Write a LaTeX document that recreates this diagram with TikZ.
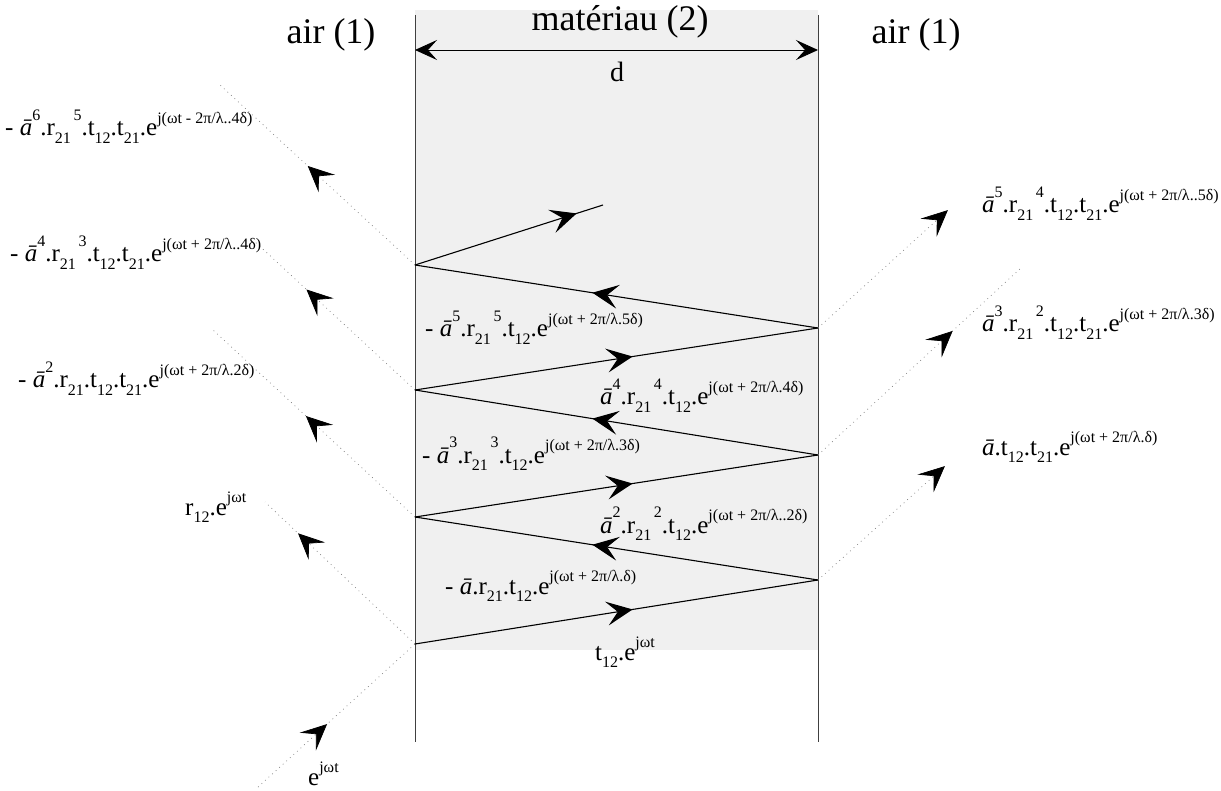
\documentclass[tikz,border=0pt]{standalone}
\usepackage{fontspec}
\setmainfont{Liberation Serif}
\usepackage{tikz}
\usetikzlibrary{arrows.meta,decorations.markings}

\newcommand\scr{\fontsize{16}{16}\selectfont}
\newcommand\ab[1]{\textit{ā}\raisebox{0.62em}{\scr #1}}
\newcommand\lo[1]{\raisebox{-0.3em}{\scr #1}}
\newcommand\hi[1]{\raisebox{0.62em}{\scr\,#1}}
\newcommand\ex[1]{\raisebox{0.5em}{\scr #1}}

\begin{document}
\begin{tikzpicture}[x=1pt,y=-1pt,
  midarrow/.style={postaction={decorate},decoration={markings,
    mark=at position #1 with {\arrow[black,solid]{Stealth[length=26pt,width=24pt,inset=11pt]}}}}]
\tikzstyle{every node}+=[inner sep=0pt]
\tikzstyle{wave}=[black,line width=1.1pt]
\tikzstyle{ray}=[gray,line width=0.7pt,dash pattern=on 0.8pt off 4pt]
\tikzstyle{wall}=[black!75,line width=0.8pt]
\tikzstyle{formula}=[anchor=base west,font=\fontsize{25}{28}\selectfont]
\tikzstyle{title}=[font=\fontsize{36}{40}\selectfont]
\useasboundingbox (0,0) rectangle (1221,791);
% slab
\fill [black!6] (415,10) rectangle (818,650);
\coordinate (wl1) at (415,15);
\coordinate (wl2) at (415,742);
\coordinate (wr1) at (818,15);
\coordinate (wr2) at (818,742);
\draw [wall] (wl1) -- (wl2);
\draw [wall] (wr1) -- (wr2);
\node [title] (air1) at (331,35) {air (1)};
\node [title] (mat) at (620,22) {matériau (2)};
\node [title] (air2) at (916,35) {air (1)};
\coordinate (dl) at (415,50);
\coordinate (dr) at (818,50);
\draw [black,line width=0.9pt,{Stealth[length=22pt,width=20pt,inset=9pt]}-{Stealth[length=22pt,width=20pt,inset=9pt]}] (dl) -- (dr);
\node [font=\fontsize{28}{30}\selectfont] (d) at (617,72) {d};
% reflection points
\coordinate (A0) at (415,644);
\coordinate (B1) at (818,580);
\coordinate (A1) at (415,517);
\coordinate (B2) at (818,455);
\coordinate (A2) at (415,390);
\coordinate (B3) at (818,328);
\coordinate (A3) at (415,265);
\coordinate (E) at (603,205);
\draw [wave,midarrow=0.54] (A0) -- (B1);
\draw [wave,midarrow=0.56] (B1) -- (A1);
\draw [wave,midarrow=0.54] (A1) -- (B2);
\draw [wave,midarrow=0.56] (B2) -- (A2);
\draw [wave,midarrow=0.54] (A2) -- (B3);
\draw [wave,midarrow=0.56] (B3) -- (A3);
\draw [wave,midarrow=0.86] (A3) -- (E);
% outside rays
\coordinate (src) at (258,787);
\coordinate (r0) at (265,502);
\coordinate (r1) at (213,330);
\coordinate (r2) at (253,240);
\coordinate (r3) at (220,85);
\coordinate (t1) at (945,466);
\coordinate (t2) at (1022,267);
\coordinate (t3) at (948,210);
\draw [ray,midarrow=0.44] (src) -- (A0);
\draw [ray,midarrow=0.78] (A0) -- (r0);
\draw [ray,midarrow=0.54] (A1) -- (r1);
\draw [ray,midarrow=0.67] (A2) -- (r2);
\draw [ray,midarrow=0.55] (A3) -- (r3);
\draw [ray,midarrow=0.999] (B1) -- (t1);
\draw [ray,midarrow=0.66] (B2) -- (t2);
\draw [ray,midarrow=0.999] (B3) -- (t3);
% labels left
\node [formula] (l3) at (5,136) {- \ab{6}.r\lo{21}\hi{5}.t\lo{12}.t\lo{21}.e\ex{j(ωt - 2π/λ..4δ)}};
\node [formula] (l2) at (10,262) {- \ab{4}.r\lo{21}\hi{3}.t\lo{12}.t\lo{21}.e\ex{j(ωt + 2π/λ..4δ)}};
\node [formula] (l1) at (18,388) {- \ab{2}.r\lo{21}.t\lo{12}.t\lo{21}.e\ex{j(ωt + 2π/λ.2δ)}};
\node [formula] (l0) at (185,515) {r\lo{12}.e\ex{jωt}};
\node [formula] (inc) at (308,785) {e\ex{jωt}};
% labels inside
\node [formula] (m0) at (595,660) {t\lo{12}.e\ex{jωt}};
\node [formula] (m1) at (445,594) {- \textit{ā}.r\lo{21}.t\lo{12}.e\ex{j(ωt + 2π/λ.δ)}};
\node [formula] (m2) at (600,533) {\ab{2}.r\lo{21}\hi{2}.t\lo{12}.e\ex{j(ωt + 2π/λ..2δ)}};
\node [formula] (m3) at (422,463) {- \ab{3}.r\lo{21}\hi{3}.t\lo{12}.e\ex{j(ωt + 2π/λ.3δ)}};
\node [formula] (m4) at (600,405) {\ab{4}.r\lo{21}\hi{4}.t\lo{12}.e\ex{j(ωt + 2π/λ.4δ)}};
\node [formula] (m5) at (425,337) {- \ab{5}.r\lo{21}\hi{5}.t\lo{12}.e\ex{j(ωt + 2π/λ.5δ)}};
% labels right
\node [formula] (p3) at (982,213) {\ab{5}.r\lo{21}\hi{4}.t\lo{12}.t\lo{21}.e\ex{j(ωt + 2π/λ..5δ)}};
\node [formula] (p2) at (982,332) {\ab{3}.r\lo{21}\hi{2}.t\lo{12}.t\lo{21}.e\ex{j(ωt + 2π/λ.3δ)}};
\node [formula] (p1) at (982,455) {\textit{ā}.t\lo{12}.t\lo{21}.e\ex{j(ωt + 2π/λ.δ)}};
\end{tikzpicture}
\end{document}
